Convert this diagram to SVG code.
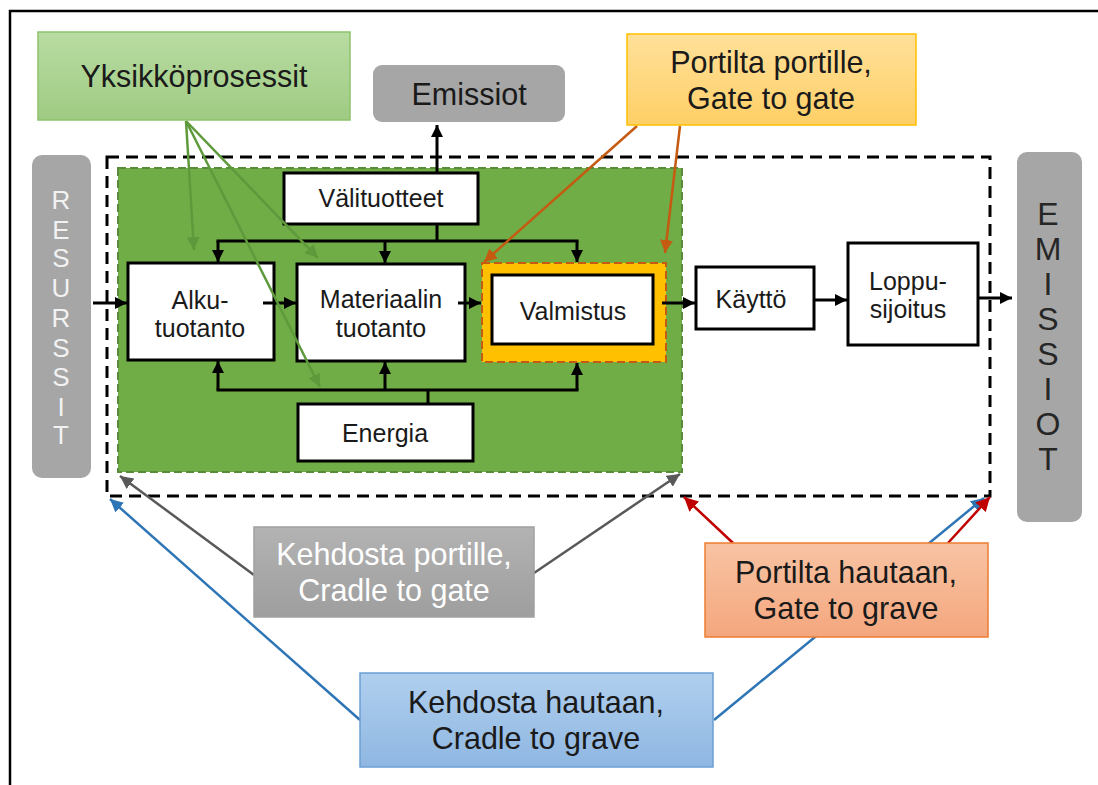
<svg xmlns="http://www.w3.org/2000/svg" width="1098" height="785" viewBox="0 0 1098 785">
<defs>
<style>
text{font-family:"Liberation Sans",Arial,sans-serif;}
.node{fill:#fff;stroke:#000;stroke-width:3;}
.nt{font-size:25px;fill:#1a1a1a;text-anchor:middle;}
.lt{font-size:30.5px;fill:#1a1a1a;text-anchor:middle;}
.blk{fill:none;stroke:#000;stroke-width:3;}
.grn{fill:none;stroke:#5e9a3c;stroke-width:2.5;}
.org{fill:none;stroke:#c55a11;stroke-width:2.5;}
.gry{fill:none;stroke:#595959;stroke-width:2.5;}
.blu{fill:none;stroke:#2e75b6;stroke-width:2.5;}
.red{fill:none;stroke:#c00000;stroke-width:2.5;}
</style>
<marker id="ab" viewBox="0 0 10 10" refX="10" refY="5" markerWidth="12" markerHeight="12" markerUnits="userSpaceOnUse" orient="auto"><path d="M0,0 L10,5 L0,10 z" fill="#000"/></marker>
<marker id="ag" viewBox="0 0 10 10" refX="10" refY="5" markerWidth="13" markerHeight="13" markerUnits="userSpaceOnUse" orient="auto"><path d="M0,0 L10,5 L0,10 z" fill="#5e9a3c"/></marker>
<marker id="ao" viewBox="0 0 10 10" refX="10" refY="5" markerWidth="13" markerHeight="13" markerUnits="userSpaceOnUse" orient="auto"><path d="M0,0 L10,5 L0,10 z" fill="#c55a11"/></marker>
<marker id="ay" viewBox="0 0 10 10" refX="10" refY="5" markerWidth="13" markerHeight="13" markerUnits="userSpaceOnUse" orient="auto"><path d="M0,0 L10,5 L0,10 z" fill="#595959"/></marker>
<marker id="au" viewBox="0 0 10 10" refX="10" refY="5" markerWidth="13" markerHeight="13" markerUnits="userSpaceOnUse" orient="auto"><path d="M0,0 L10,5 L0,10 z" fill="#2e75b6"/></marker>
<marker id="ar" viewBox="0 0 10 10" refX="10" refY="5" markerWidth="14" markerHeight="14" markerUnits="userSpaceOnUse" orient="auto"><path d="M0,0 L10,5 L0,10 z" fill="#c00000"/></marker>
<linearGradient id="gG" x1="0" y1="0" x2="0" y2="1"><stop offset="0" stop-color="#b9dca2"/><stop offset="1" stop-color="#9fcb83"/></linearGradient>
<linearGradient id="gO" x1="0" y1="0" x2="0" y2="1"><stop offset="0" stop-color="#ffe09a"/><stop offset="1" stop-color="#ffcf66"/></linearGradient>
<linearGradient id="gY" x1="0" y1="0" x2="0" y2="1"><stop offset="0" stop-color="#b3b3b3"/><stop offset="1" stop-color="#9e9e9e"/></linearGradient>
<linearGradient id="gS" x1="0" y1="0" x2="0" y2="1"><stop offset="0" stop-color="#f8c3a3"/><stop offset="1" stop-color="#f4a77e"/></linearGradient>
<linearGradient id="gB" x1="0" y1="0" x2="0" y2="1"><stop offset="0" stop-color="#b0cfee"/><stop offset="1" stop-color="#8fb7e2"/></linearGradient>
</defs>
<rect x="0" y="0" width="1098" height="785" fill="#fff"/>
<rect x="10" y="11" width="1200" height="900" fill="none" stroke="#000" stroke-width="2.5"/>

<g id="system-boundary">
<rect x="107" y="157" width="883" height="339" fill="none" stroke="#000" stroke-width="3" stroke-dasharray="12 7"/>
</g>
<g id="unit-process-area">
<rect x="118" y="168" width="564" height="304" fill="#70ad47" stroke="#5a8a3c" stroke-width="2" stroke-dasharray="8 4"/>
</g>

<g id="resurssit">
<rect x="32" y="155" width="59" height="323" rx="10" fill="#a6a6a6"/>
<g font-size="26" fill="#f2f2f2" text-anchor="middle">
<text x="61" y="209">R</text><text x="61" y="239">E</text><text x="61" y="267">S</text><text x="61" y="297">U</text><text x="61" y="327">R</text><text x="61" y="357">S</text><text x="61" y="386">S</text><text x="61" y="416">I</text><text x="61" y="444">T</text>
</g>
</g>

<g id="emissiot-side">
<rect x="1017" y="152" width="65" height="370" rx="10" fill="#a6a6a6"/>
<g font-size="32" fill="#262626" text-anchor="middle">
<text x="1048" y="225">E</text><text x="1048" y="260">M</text><text x="1048" y="295">I</text><text x="1048" y="330">S</text><text x="1048" y="365">S</text><text x="1048" y="400">I</text><text x="1048" y="435">O</text><text x="1048" y="470">T</text>
</g>
</g>

<g id="valituotteet"><rect class="node" x="284" y="173" width="194" height="51"/><text class="nt" x="381" y="207">Välituotteet</text></g>
<g id="alkutuotanto"><rect class="node" x="128" y="263" width="146" height="97"/><text class="nt" x="200" y="309">Alku-</text><text class="nt" x="200" y="337">tuotanto</text></g>
<g id="materiaalin"><rect class="node" x="297" y="264" width="168" height="97"/><text class="nt" x="381" y="308">Materiaalin</text><text class="nt" x="381" y="337">tuotanto</text></g>
<g id="valmistus">
<rect x="482" y="263" width="184" height="99" fill="#ffc000" stroke="#c55a11" stroke-width="2" stroke-dasharray="8 4"/>
<rect class="node" x="492" y="275" width="161" height="69"/><text class="nt" x="573" y="320">Valmistus</text>
</g>
<g id="kaytto"><rect class="node" x="696" y="267" width="118" height="62"/><text class="nt" x="751" y="308">Käyttö</text></g>
<g id="loppusijoitus"><rect class="node" x="848" y="243" width="130" height="102"/><text class="nt" x="908" y="290">Loppu-</text><text class="nt" x="908" y="318">sijoitus</text></g>
<g id="energia"><rect class="node" x="298" y="404" width="175" height="57"/><text class="nt" x="385" y="442">Energia</text></g>

<g id="connectors">
<path class="blk" d="M93,303 H127" marker-end="url(#ab)"/>
<path class="blk" d="M263,303 H296" marker-end="url(#ab)"/>
<path class="blk" d="M458,303 H481" marker-end="url(#ab)"/>
<path class="blk" d="M662,303 H695" marker-end="url(#ab)"/>
<path class="blk" d="M814,300 H847" marker-end="url(#ab)"/>
<path class="blk" d="M978,298 H1012" marker-end="url(#ab)"/>
<path class="blk" d="M437,172 V125" marker-end="url(#ab)"/>
<path class="blk" d="M437,224 V241 M216.5,241 H578.5"/>
<path class="blk" d="M218,241 V262" marker-end="url(#ab)"/>
<path class="blk" d="M385,241 V263" marker-end="url(#ab)"/>
<path class="blk" d="M577,241 V262" marker-end="url(#ab)"/>
<path class="blk" d="M428,404 V390 M216.5,390 H578.5"/>
<path class="blk" d="M218,390 V361" marker-end="url(#ab)"/>
<path class="blk" d="M385,390 V362" marker-end="url(#ab)"/>
<path class="blk" d="M577,390 V363" marker-end="url(#ab)"/>

<path class="grn" d="M186,121 L194,250" marker-end="url(#ag)"/>
<path class="grn" d="M186,121 L320,387" marker-end="url(#ag)"/>
<path class="grn" d="M186,121 L318,258" marker-end="url(#ag)"/>
<path class="org" d="M637,126 L484,262" marker-end="url(#ao)"/>
<path class="org" d="M680,126 L665,253" marker-end="url(#ao)"/>

<path class="gry" d="M254,575 L120,476" marker-end="url(#ay)"/>
<path class="gry" d="M534,573 L680,474" marker-end="url(#ay)"/>
<path class="blu" d="M360,720 L110,499" marker-end="url(#au)"/>
<path class="blu" d="M714,720 L984,498" marker-end="url(#au)"/>
<path class="red" d="M733,543 L684,497" marker-end="url(#ar)"/>
<path class="red" d="M948,543 L990,497" marker-end="url(#ar)"/>
</g>

<g id="yksikkoprosessit"><rect x="38" y="32" width="312" height="88" fill="url(#gG)" stroke="#8dc26b" stroke-width="1.5"/><text class="lt" x="194" y="87">Yksikköprosessit</text></g>
<g id="emissiot-top"><rect x="373" y="65" width="192" height="57" rx="9" fill="#a6a6a6"/><text class="lt" x="469" y="105">Emissiot</text></g>
<g id="gate-to-gate"><rect x="627" y="34" width="289" height="91" fill="url(#gO)" stroke="#ffc000" stroke-width="1.5"/><text class="lt" x="771" y="73">Portilta portille,</text><text class="lt" x="771" y="109">Gate to gate</text></g>
<g id="cradle-to-gate"><rect x="254" y="527" width="280" height="90" fill="url(#gY)" stroke="#a0a0a0" stroke-width="1.5"/><text class="lt" x="394" y="565" style="fill:#fff">Kehdosta portille,</text><text class="lt" x="394" y="601" style="fill:#fff">Cradle to gate</text></g>
<g id="gate-to-grave"><rect x="705" y="543" width="283" height="94" fill="url(#gS)" stroke="#ed7d31" stroke-width="1.5"/><text class="lt" x="846" y="583">Portilta hautaan,</text><text class="lt" x="846" y="619">Gate to grave</text></g>
<g id="cradle-to-grave"><rect x="360" y="673" width="353" height="94" fill="url(#gB)" stroke="#6a9fd4" stroke-width="1.5"/><text class="lt" x="536" y="713">Kehdosta hautaan,</text><text class="lt" x="536" y="749">Cradle to grave</text></g>
</svg>
